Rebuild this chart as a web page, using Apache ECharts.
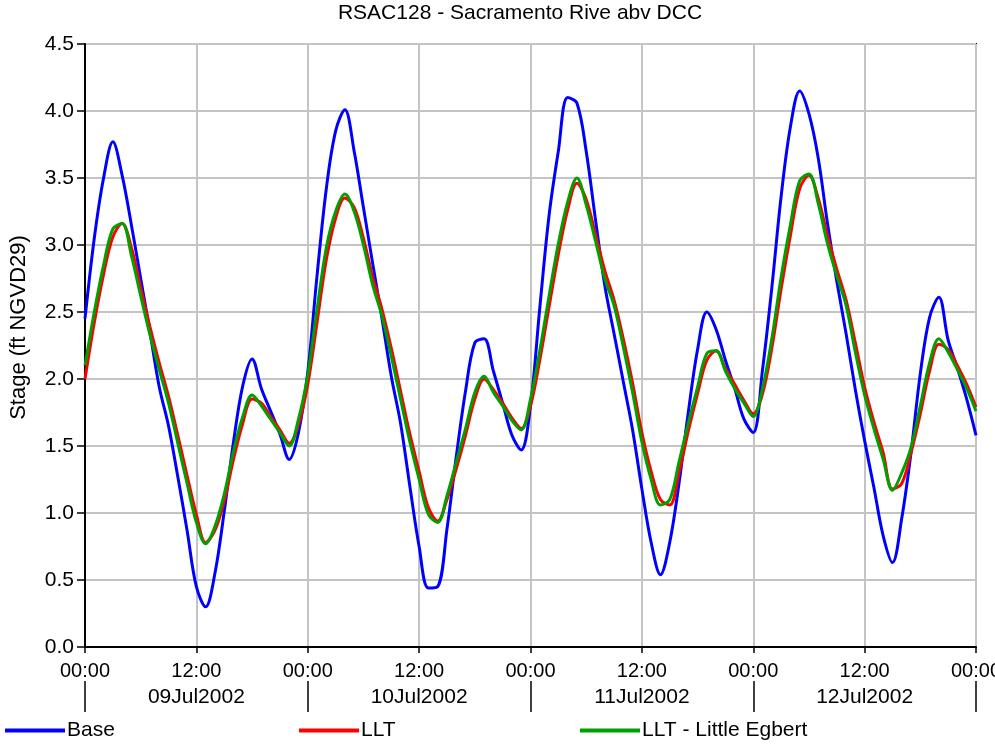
<!DOCTYPE html>
<html>
<head>
<meta charset="utf-8">
<script src="https://cdn.jsdelivr.net/npm/echarts@6/dist/echarts.min.js"></script>
<style>
html,body{margin:0;padding:0;background:#fff;}
#chart{width:995px;height:746px;}
</style>
</head>
<body>
<div id="chart"></div>
<script>
// Hours since 09Jul2002 00:00 (hourly samples)
const startHour = 0;
const sampleCount = 97;
const hours = Array.from({length: sampleCount}, (_, i) => startHour + i);

const dayLabels = ['09Jul2002', '10Jul2002', '11Jul2002', '12Jul2002'];
const yTicks = [0, 0.5, 1.0, 1.5, 2.0, 2.5, 3.0, 3.5, 4.0, 4.5];

const baseStage = [
  2.45, 3.05, 3.50, 3.77, 3.52, 3.15, 2.75, 2.35, 1.94, 1.65,
  1.27, 0.87, 0.45, 0.30, 0.55, 1.01, 1.53, 1.95, 2.15, 1.93,
  1.76, 1.59, 1.40, 1.60, 2.05, 2.77, 3.42, 3.85, 4.01, 3.70,
  3.28, 2.86, 2.45, 2.02, 1.67, 1.20, 0.75, 0.44, 0.45, 0.88,
  1.42, 1.91, 2.27, 2.30, 2.06, 1.82, 1.58, 1.47, 1.80, 2.53,
  3.22, 3.70, 4.10, 4.06, 3.70, 3.19, 2.70, 2.34, 1.98, 1.62,
  1.18, 0.78, 0.54, 0.78, 1.22, 1.75, 2.22, 2.50, 2.37, 2.14,
  1.93, 1.70, 1.60, 2.07, 2.68, 3.36, 3.88, 4.15, 3.98, 3.65,
  3.16, 2.73, 2.34, 1.92, 1.54, 1.19, 0.83, 0.63, 0.96, 1.45,
  2.04, 2.46, 2.61, 2.29, 2.08, 1.85, 1.58
];

const lltStage = [
  2.00, 2.42, 2.78, 3.06, 3.16, 2.98, 2.68, 2.39, 2.12, 1.87,
  1.58, 1.28, 0.99, 0.78, 0.87, 1.09, 1.40, 1.67, 1.85, 1.82,
  1.72, 1.62, 1.52, 1.66, 1.96, 2.42, 2.89, 3.20, 3.35, 3.28,
  3.05, 2.76, 2.52, 2.23, 1.91, 1.59, 1.31, 1.04, 0.94, 1.10,
  1.33, 1.58, 1.85, 2.00, 1.92, 1.82, 1.71, 1.63, 1.80, 2.14,
  2.54, 2.93, 3.26, 3.46, 3.34, 3.08, 2.81, 2.59, 2.30, 1.97,
  1.60, 1.31, 1.10, 1.06, 1.30, 1.61, 1.89, 2.14, 2.21, 2.08,
  1.96, 1.84, 1.74, 1.89, 2.23, 2.67, 3.07, 3.42, 3.52, 3.35,
  3.07, 2.82, 2.59, 2.27, 1.94, 1.68, 1.45, 1.18, 1.22, 1.45,
  1.74, 2.06, 2.26, 2.22, 2.10, 1.96, 1.79
];

const egbertStage = [
  2.10, 2.50, 2.85, 3.12, 3.16, 2.92, 2.62, 2.33, 2.07, 1.82,
  1.52, 1.22, 0.93, 0.77, 0.90, 1.14, 1.46, 1.72, 1.88, 1.80,
  1.70, 1.60, 1.50, 1.70, 2.03, 2.52, 2.98, 3.25, 3.38, 3.25,
  3.00, 2.70, 2.47, 2.17, 1.85, 1.53, 1.25, 0.99, 0.93, 1.13,
  1.38, 1.63, 1.90, 2.02, 1.90, 1.80, 1.69, 1.62, 1.85, 2.21,
  2.62, 3.01, 3.32, 3.50, 3.30, 3.03, 2.75, 2.55, 2.24, 1.90,
  1.53, 1.25, 1.06, 1.10, 1.38, 1.67, 1.94, 2.19, 2.21, 2.06,
  1.93, 1.82, 1.72, 1.93, 2.30, 2.76, 3.15, 3.48, 3.53, 3.31,
  3.01, 2.77, 2.55, 2.20, 1.88, 1.63, 1.40, 1.17, 1.30, 1.49,
  1.80, 2.12, 2.30, 2.20, 2.07, 1.93, 1.76
];

const seriesNames = ['Base', 'LLT', 'LLT - Little Egbert'];
const seriesColors = ['#0000ff', '#ff0000', '#00a000'];

function pairs(vals) { return vals.map((v, i) => [hours[i], v]); }

const FONT = 'Liberation Sans, Arial, sans-serif';
const chart = echarts.init(document.getElementById('chart'), null, {renderer: 'canvas'});

const legendBase = {
  orient: 'horizontal', top: 720, padding: 0,
  itemWidth: 60, itemHeight: 4, icon: 'rect',
  textStyle: {fontFamily: FONT, fontSize: 21, color: '#000', padding: [0, 0, 0, -3]}
};

chart.setOption({
  animation: false,
  backgroundColor: '#fff',
  title: {
    text: 'RSAC128 - Sacramento Rive abv DCC',
    left: 520, top: 3, padding: 0, textAlign: 'center',
    textStyle: {fontFamily: FONT, fontSize: 21, fontWeight: 'normal', color: '#000'}
  },
  legend: [
    Object.assign({}, legendBase, {data: [seriesNames[0]], left: 5}),
    Object.assign({}, legendBase, {data: [seriesNames[1]], left: 299}),
    Object.assign({}, legendBase, {data: [seriesNames[2]], left: 580})
  ],
  grid: [
    {
      left: 85, right: 19, top: 44, bottom: 99,
      outerBoundsMode: 'none', containLabel: false,
      show: true, borderColor: '#000', borderWidth: 2, backgroundColor: 'transparent'
    },
    {
      left: 85, right: 19, top: 681, height: 31,
      outerBoundsMode: 'none', containLabel: false, show: false
    }
  ],
  xAxis: [
    {
      gridIndex: 0, type: 'value', min: 0, max: 96, interval: 12,
      axisLine: {show: true, onZero: false, lineStyle: {color: '#000', width: 2}},
      axisTick: {show: true, length: 6, lineStyle: {color: '#000', width: 1.5}},
      splitLine: {show: true, lineStyle: {color: '#c4c4c4', width: 2}},
      axisLabel: {
        margin: 14, fontFamily: FONT, fontSize: 20, color: '#000',
        formatter: v => (v % 24 === 0 ? '00:00' : '12:00'),
        showMaxLabel: true, showMinLabel: true, hideOverlap: false
      }
    },
    {
      gridIndex: 1, type: 'category', position: 'top',
      data: dayLabels, boundaryGap: true,
      axisLine: {show: false},
      axisTick: {show: false},
      axisLabel: {inside: true, margin: 6, fontFamily: FONT, fontSize: 21, color: '#000'},
      splitLine: {show: true, showMinLine: true, showMaxLine: true, lineStyle: {color: '#000', width: 1.5}}
    }
  ],
  yAxis: [
    {
      gridIndex: 0, type: 'value', min: yTicks[0], max: yTicks[yTicks.length - 1], interval: 0.5,
      name: 'Stage (ft NGVD29)', nameLocation: 'middle', nameGap: 55, nameRotate: 90,
      nameTextStyle: {fontFamily: FONT, fontSize: 22, color: '#000', padding: [0, 0, 0, 36]},
      axisLine: {show: true, lineStyle: {color: '#000', width: 2}},
      axisTick: {show: true, length: 8, lineStyle: {color: '#000', width: 1.5}},
      splitLine: {show: true, lineStyle: {color: '#c4c4c4', width: 2}},
      axisLabel: {margin: 11, fontFamily: FONT, fontSize: 21, color: '#000', formatter: v => v.toFixed(1)}
    },
    {
      gridIndex: 1, type: 'value', min: 0, max: 1, show: false
    }
  ],
  series: [
    {name: seriesNames[0], type: 'line', xAxisIndex: 0, yAxisIndex: 0, data: pairs(baseStage), smooth: 0.35, symbol: 'none',
     lineStyle: {color: seriesColors[0], width: 3}, itemStyle: {color: seriesColors[0]}, z: 2},
    {name: seriesNames[1], type: 'line', xAxisIndex: 0, yAxisIndex: 0, data: pairs(lltStage), smooth: 0.35, symbol: 'none',
     lineStyle: {color: seriesColors[1], width: 3}, itemStyle: {color: seriesColors[1]}, z: 3},
    {name: seriesNames[2], type: 'line', xAxisIndex: 0, yAxisIndex: 0, data: pairs(egbertStage), smooth: 0.35, symbol: 'none',
     lineStyle: {color: seriesColors[2], width: 3}, itemStyle: {color: seriesColors[2]}, z: 4}
  ]
});
</script>
</body>
</html>
